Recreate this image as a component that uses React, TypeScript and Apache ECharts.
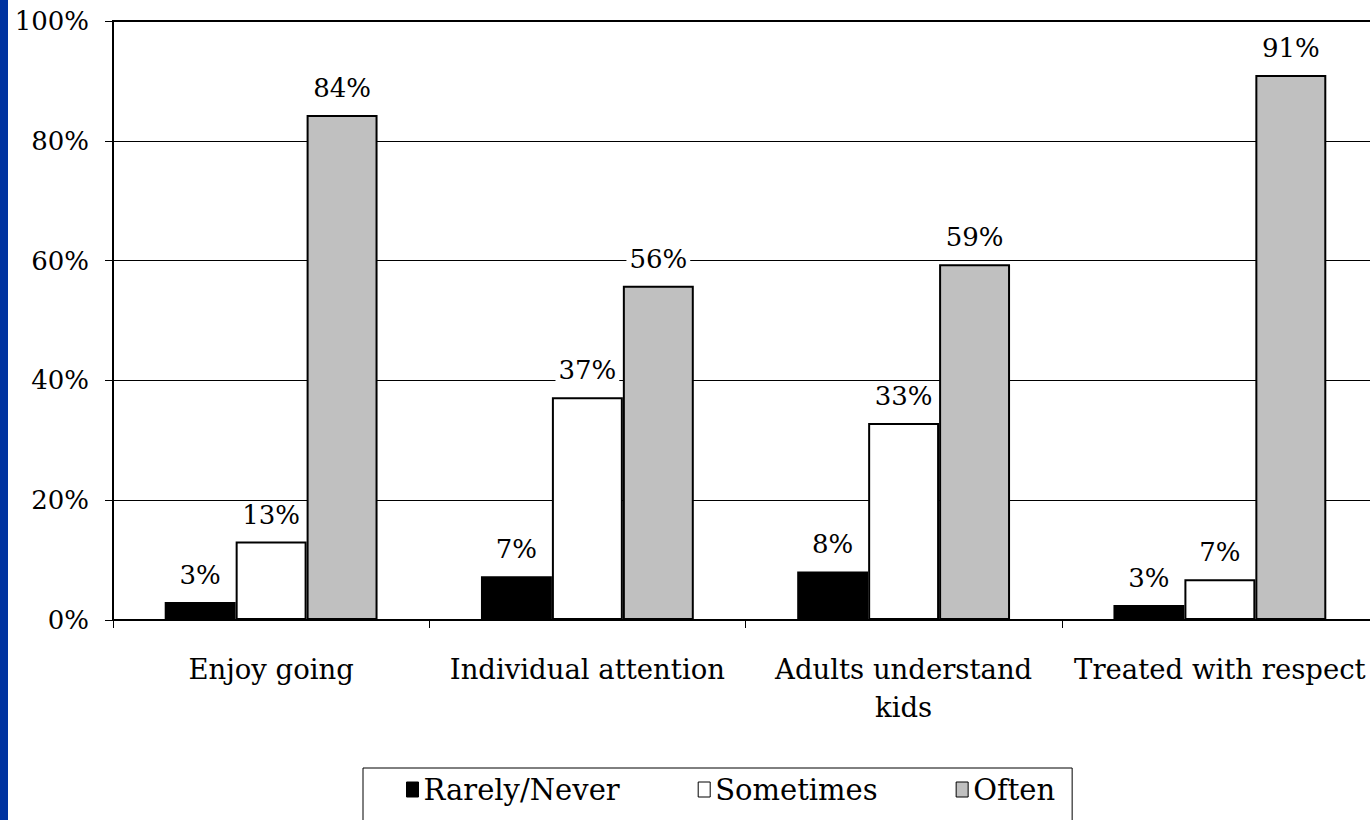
import React, { useEffect, useRef } from "react";
import * as echarts from "echarts";

const categories = ["Enjoy going", "Individual attention", "Adults understand\nkids", "Treated with respect"];
const seriesNames = ["Rarely/Never", "Sometimes", "Often"];
const rarelyNever = [3.0, 7.3, 8.1, 2.5];
const sometimes = [13.1, 37.2, 32.9, 6.8];
const often = [84.3, 55.8, 59.4, 91.0];
const yTicks = [0, 20, 40, 60, 80, 100];

const FONT = "DejaVu Serif";

export default function App() {
  const ref = useRef<HTMLDivElement>(null);
  useEffect(() => {
    if (!ref.current) return;
    const chart = echarts.init(ref.current, null, { renderer: "svg" });
    const fills = ["#000000", "#ffffff", "#c0c0c0"];
    const datas = [rarelyNever, sometimes, often];
    const label = {
      show: true,
      position: "top" as const,
      distance: 14,
      color: "#000",
      fontFamily: FONT,
      fontSize: 26,
      backgroundColor: "#fff",
      padding: [0, 3, 0, 3],
      formatter: (p: any) => Math.round(p.value) + "%",
    };
    chart.setOption({
      animation: false,
      backgroundColor: "#fff",
      textStyle: { fontFamily: FONT, color: "#000" },
      grid: { left: 113, top: 21, bottom: 200, right: 0, show: true, borderColor: "#000", borderWidth: 2, backgroundColor: "transparent" },
      legend: {
        data: seriesNames,
        left: 363,
        top: 768,
        orient: "horizontal",
        padding: [7, 17, 30, 43],
        borderColor: "#000",
        borderWidth: 1,
        backgroundColor: "#fff",
        itemWidth: 12,
        itemHeight: 15,
        itemGap: 78,
        icon: "rect",
        itemStyle: { borderWidth: 1, borderColor: "#000" },
        textStyle: { fontFamily: FONT, fontSize: 29, color: "#000" },
      },
      xAxis: {
        type: "category",
        data: categories,
        axisLine: { show: true, lineStyle: { color: "#000", width: 2 } },
        axisTick: { show: true, alignWithLabel: false, length: 8, lineStyle: { color: "#000", width: 1 } },
        axisLabel: { color: "#000", fontFamily: FONT, fontSize: 27.5, margin: 30, lineHeight: 38, interval: 0 },
        splitLine: { show: false },
      },
      yAxis: {
        type: "value",
        min: yTicks[0],
        max: yTicks[yTicks.length - 1],
        interval: 20,
        axisLine: { show: true, lineStyle: { color: "#000", width: 2 } },
        axisTick: { show: true, length: 8, lineStyle: { color: "#000", width: 1 } },
        axisLabel: { color: "#000", fontFamily: FONT, fontSize: 26, margin: 24, formatter: (v: number) => v + "%" },
        splitLine: { show: true, lineStyle: { color: "#000", width: 1 } },
      },
      series: seriesNames.map((name, i) => ({
        name,
        type: "bar",
        data: datas[i],
        barGap: "0%",
        barCategoryGap: "32.7%",
        itemStyle: { color: fills[i], borderColor: "#000", borderWidth: 2 },
        label,
      })),
    });
    return () => chart.dispose();
  }, []);
  return (
    <div style={{ position: "fixed", left: 0, top: 0, width: 1370, height: 820, overflow: "hidden", background: "#fff" }}>
      <div ref={ref} style={{ position: "absolute", left: 0, top: 0, width: 1378, height: 820 }} />
      <div style={{ position: "absolute", left: 0, top: 0, width: 8, height: 820, background: "#0033a0" }} />
    </div>
  );
}
